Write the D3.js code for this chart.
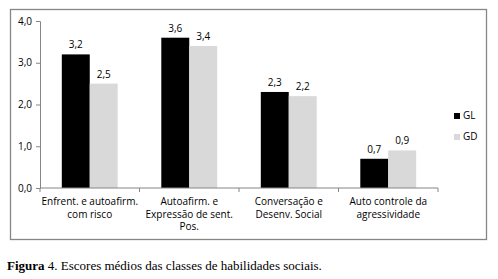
<!DOCTYPE html>
<html>
<head>
<meta charset="utf-8">
<script src="https://cdn.jsdelivr.net/npm/d3@7"></script>
<style>
  body { margin: 0; background: #fff; }
  svg { display: block; }
</style>
</head>
<body>
<div id="chart"></div>
<script>
// Data
const categories = [
  ['Enfrent. e autoafirm.', 'com risco'],
  ['Autoafirm. e', 'Expressão de sent.', 'Pos.'],
  ['Conversação e', 'Desenv. Social'],
  ['Auto controle da', 'agressividade']
]
const seriesNames = ['GL', 'GD']
const glValues = [3.2, 3.6, 2.3, 0.7]
const gdValues = [2.5, 3.4, 2.2, 0.9]
const yTicks = [0, 1, 2, 3, 4]
const colors = ['#000000', '#d9d9d9']

const width = 498, height = 279
const plot = { left: 40, right: 438, top: 21, bottom: 188 }

const svg = d3.select('#chart').append('svg')
  .attr('width', width)
  .attr('height', height)

// frame
svg.append('rect')
  .attr('x', 10.5).attr('y', 9.5)
  .attr('width', 476).attr('height', 230)
  .attr('fill', 'none')
  .attr('stroke', '#868686')
  .attr('stroke-width', 1.3)

// Scales
const xScale = d3.scaleBand()
  .domain(d3.range(categories.length))
  .range([plot.left, plot.right])

const yScale = d3.scaleLinear()
  .domain([0, 4])
  .range([plot.bottom, plot.top])

const inner = d3.scaleBand()
  .domain(seriesNames)
  .range([0, xScale.bandwidth()])
  .paddingInner(0)
  .paddingOuter(0.78)

const fmt = d => d.toFixed(1).replace('.', ',')
const font = "'Open Sans', sans-serif"

// Bars
const rows = d3.range(categories.length).map(i => ({ i, vals: [glValues[i], gdValues[i]] }))
const groups = svg.append('g').selectAll('g')
  .data(rows)
  .join('g')
  .attr('transform', d => `translate(${xScale(d.i)},0)`)

groups.selectAll('rect')
  .data(d => d.vals.map((v, k) => ({ v, k })))
  .join('rect')
  .attr('x', d => inner(seriesNames[d.k]))
  .attr('width', inner.bandwidth())
  .attr('y', d => yScale(d.v))
  .attr('height', d => yScale(0) - yScale(d.v))
  .attr('fill', d => colors[d.k])

groups.selectAll('text')
  .data(d => d.vals.map((v, k) => ({ v, k })))
  .join('text')
  .attr('x', d => inner(seriesNames[d.k]) + inner.bandwidth() / 2)
  .attr('y', d => yScale(d.v) - 6)
  .attr('text-anchor', 'middle')
  .attr('font-family', font)
  .attr('font-size', 10)
  .attr('fill', '#000')
  .text(d => fmt(d.v))

// Axes
const yAxis = d3.axisLeft(yScale)
  .tickValues(yTicks)
  .tickSize(4)
  .tickFormat(fmt)
const yAxisGroup = svg.append('g')
  .attr('transform', `translate(${plot.left},0)`)
  .call(yAxis)

const xAxisGroup = svg.append('g')
  .attr('transform', `translate(0,${plot.bottom})`)
xAxisGroup.append('line')
  .attr('x1', plot.left).attr('x2', plot.right)
  .attr('stroke', '#868686')
xAxisGroup.selectAll('line.tick')
  .data(d3.range(categories.length + 1))
  .join('line')
  .attr('class', 'tick')
  .attr('x1', i => i < categories.length ? xScale(i) : plot.right)
  .attr('x2', i => i < categories.length ? xScale(i) : plot.right)
  .attr('y1', 0).attr('y2', 4)
  .attr('stroke', '#868686')

yAxisGroup.select('.domain').attr('stroke', '#868686')
yAxisGroup.selectAll('.tick line').attr('stroke', '#868686')
yAxisGroup.selectAll('.tick text')
  .attr('font-family', font)
  .attr('font-size', 10)
  .attr('fill', '#000')
  .attr('x', -8)

// category labels
const catText = svg.append('g').selectAll('text')
  .data(categories)
  .join('text')
  .attr('text-anchor', 'middle')
  .attr('font-family', font)
  .attr('font-size', 10)
  .attr('fill', '#000')
catText.selectAll('tspan')
  .data((d, i) => d.map(line => ({ line, i })))
  .join('tspan')
  .attr('x', d => xScale(d.i) + xScale.bandwidth() / 2)
  .attr('y', (d, j) => 205 + j * 12.5)
  .text(d => d.line)

// Legend
const legend = svg.append('g')
  .attr('transform', 'translate(454,113)')
seriesNames.forEach((name, k) => {
  legend.append('rect')
    .attr('x', 0).attr('y', k * 21)
    .attr('width', 6).attr('height', 6)
    .attr('fill', colors[k])
  legend.append('text')
    .attr('x', 9).attr('y', k * 21 + 6)
    .attr('font-family', font)
    .attr('font-size', 10)
    .text(name)
})

// Caption
const caption = svg.append('text')
  .attr('x', 7).attr('y', 270)
  .attr('font-family', "'Liberation Serif', 'Times New Roman', serif")
  .attr('font-size', 13)
  .attr('fill', '#000')
caption.append('tspan').attr('font-weight', 'bold').text('Figura')
caption.append('tspan').text('  4. Escores médios das classes de habilidades sociais.')
</script>
</body>
</html>
